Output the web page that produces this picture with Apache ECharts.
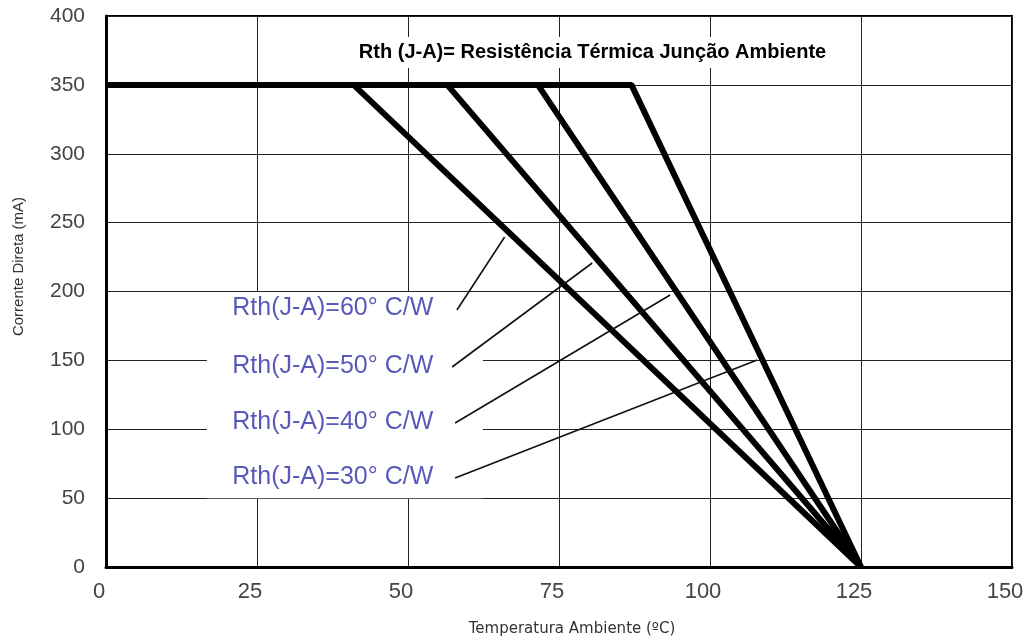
<!DOCTYPE html>
<html>
<head>
<meta charset="utf-8">
<script src="https://cdn.jsdelivr.net/npm/echarts@6/dist/echarts.min.js"></script>
<style>
  html, body { margin: 0; padding: 0; background: #fff; }
  #chart { width: 1026px; height: 639px; }
</style>
</head>
<body>
<div id="chart"></div>
<script>
// derating curves: [temperature, current]
const rth60 = [[0, 350], [41, 350], [125, 0]]
const rth50 = [[0, 350], [56.5, 350], [125, 0]]
const rth40 = [[0, 350], [71.5, 350], [125, 0]]
const rth30 = [[0, 350], [87, 350], [125, 0]]

// annotation labels and their leader lines
const labelTexts = ['Rth(J-A)=60° C/W', 'Rth(J-A)=50° C/W', 'Rth(J-A)=40° C/W', 'Rth(J-A)=30° C/W']
const labelPoints = [[20.9, 188], [20.9, 146], [20.9, 105.3], [20.9, 65.3]]
const leaders = [
  [[58.1, 186.6], [66.0, 239.6]],
  [[57.3, 145.2], [80.5, 220.7]],
  [[57.8, 104.5], [93.4, 197.5]],
  [[57.8, 64.6], [107.8, 150.3]]
]
const labelBox = [[16.7, 50], [62.4, 199.6]]
const titleText = 'Rth (J-A)= Resistência Térmica Junção Ambiente'
const titleBox = [[41.2, 362.2], [119.9, 384.8]]

const chart = echarts.init(document.getElementById('chart'))

function curve(name, data) {
  return {
    name: name,
    type: 'line',
    data: data,
    symbol: 'none',
    silent: true,
    z: 3,
    lineStyle: { color: '#000', width: 6 }
  }
}

chart.setOption({
  animation: false,
  grid: {
    left: 106, right: 14, top: 16, bottom: 72,
    outerBoundsMode: 'none',
    show: true,
    borderColor: '#000',
    borderWidth: 2
  },
  xAxis: {
    type: 'value',
    min: 0, max: 150, interval: 25,
    name: 'Temperatura Ambiente (ºC)',
    nameLocation: 'middle',
    nameGap: 55,
    nameTextStyle: { fontFamily: 'DejaVu Sans', fontSize: 15, color: '#333', padding: [0, 0, 0, 26] },
    axisLine: { show: true, lineStyle: { color: '#000', width: 3 } },
    axisTick: { show: false },
    axisLabel: { fontFamily: 'Liberation Sans', fontSize: 22, color: '#444', margin: 14, padding: [0, 14, 0, 0] },
    splitLine: { show: true, lineStyle: { color: '#222', width: 1 } }
  },
  yAxis: {
    type: 'value',
    min: 0, max: 400, interval: 50,
    name: 'Corrente Direta (mA)',
    nameLocation: 'middle',
    nameGap: 80,
    nameTextStyle: { fontFamily: 'Liberation Sans', fontSize: 15, color: '#333', padding: [0, 0, 0, 50] },
    axisLine: { show: true, lineStyle: { color: '#000', width: 3 } },
    axisTick: { show: false },
    axisLabel: { fontFamily: 'Liberation Sans', fontSize: 21, color: '#444', margin: 21 },
    splitLine: { show: true, lineStyle: { color: '#222', width: 1 } }
  },
  series: [
    curve('60', rth60),
    curve('50', rth50),
    curve('40', rth40),
    curve('30', rth30),
    {
      name: 'labels',
      type: 'scatter',
      z: 4,
      silent: true,
      symbolSize: 0,
      data: labelPoints.map((p, i) => ({ value: p, label: { formatter: labelTexts[i] } })),
      label: {
        show: true,
        position: 'right',
        distance: 0,
        fontFamily: 'Liberation Sans',
        fontSize: 25,
        color: '#2f2fa8'
      },
      markArea: {
        silent: true,
        itemStyle: { color: '#fff' },
        data: [
          [{ coord: labelBox[0] }, { coord: labelBox[1] }],
          [
            {
              coord: titleBox[0],
              label: {
                show: true,
                position: 'inside',
                formatter: titleText,
                fontFamily: 'Liberation Sans',
                fontWeight: 'bold',
                fontSize: 20,
                color: '#000'
              }
            },
            { coord: titleBox[1] }
          ]
        ]
      },
      markLine: {
        silent: true,
        symbol: 'none',
        label: { show: false },
        lineStyle: { color: '#111', width: 1.6, type: 'solid' },
        data: leaders.map(l => [{ coord: l[0] }, { coord: l[1] }])
      }
    }
  ]
})
</script>
</body>
</html>
